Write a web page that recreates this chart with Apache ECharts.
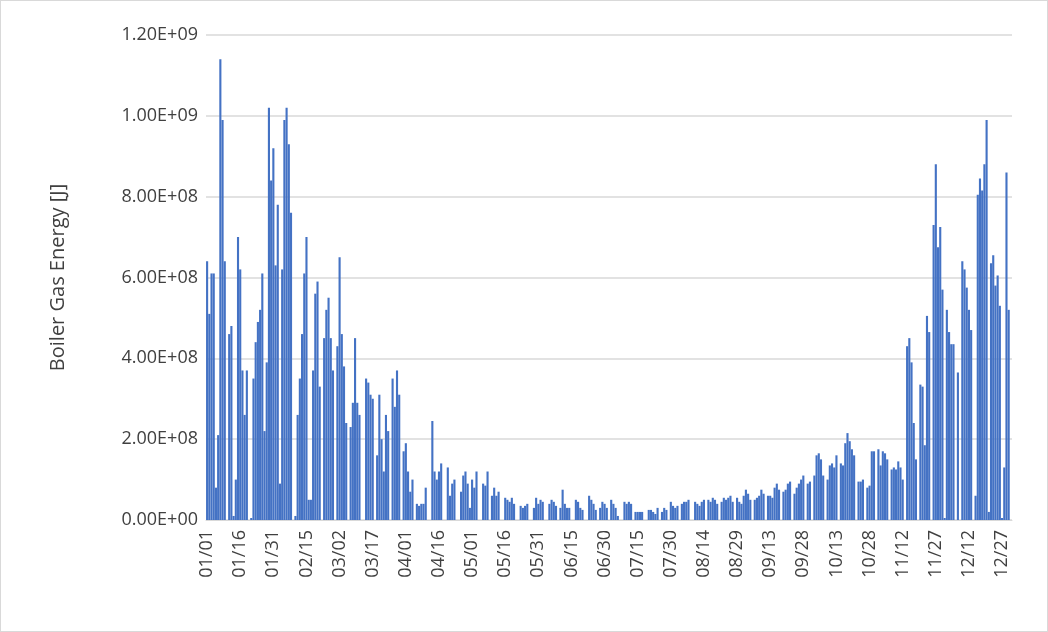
<!DOCTYPE html>
<html><head><meta charset="utf-8">
<script src="https://cdn.jsdelivr.net/npm/echarts@6/dist/echarts.min.js"></script>
<style>html,body{margin:0;padding:0;background:#fff}#c{width:1048px;height:632px;box-sizing:border-box;border:1px solid #d9d9d9}</style>
</head><body><div id="c"></div>
<script>
// values in units of 1e8 J, by month
const jan=[6.4,5.1,6.1,6.1,0.8,2.1,11.4,9.9,6.4,0,4.6,4.8,0.1,1.0,7.0,6.2,3.7,2.6,3.7,0,0.05,3.5,4.4,4.9,5.2,6.1,2.2,3.9,10.2,8.4,9.2];
const feb=[6.3,7.8,0.9,6.2,9.9,10.2,9.3,7.6,0,0.1,2.6,3.5,4.6,6.1,7.0,0.5,0.5,3.7,5.6,5.9,3.3,0,4.5,5.2,5.5,4.5,3.7,0];
const mar=[4.3,6.5,4.6,3.8,2.4,0,2.3,2.9,4.5,2.9,2.6,0,0,3.5,3.4,3.1,3.0,0,1.6,3.1,2.0,1.2,2.6,2.2,0,3.5,2.8,3.7,3.1,0,1.7];
const apr=[1.9,1.2,0.7,1.0,0,0.4,0.35,0.4,0.4,0.8,0,0,2.45,1.2,1.0,1.2,1.4,0,0,1.3,0.6,0.9,1.0,0,0,0.7,1.1,1.2,0.9,0.3];
const may=[1.0,0.8,1.2,0,0,0.9,0.85,1.2,0,0.6,0.8,0.6,0.7,0,0,0.55,0.5,0.45,0.55,0.4,0,0,0.35,0.3,0.35,0.4,0,0,0.3,0.55,0.4];
const jun=[0.5,0.45,0,0,0.4,0.5,0.45,0.35,0,0.3,0.75,0.4,0.3,0.3,0,0,0.5,0.45,0.3,0.25,0,0,0.6,0.5,0.4,0.25,0,0.3,0.45,0.4];
const jul=[0.3,0,0.5,0.4,0.3,0.1,0,0,0.45,0.4,0.45,0.4,0,0.2,0.2,0.2,0.2,0,0,0.25,0.25,0.2,0.15,0.3,0,0.2,0.3,0.25,0,0.45,0.35];
const aug=[0.3,0.35,0,0.4,0.45,0.45,0.5,0,0,0.45,0.4,0.35,0.45,0.5,0,0.5,0.45,0.55,0.5,0.4,0,0.45,0.55,0.5,0.55,0.6,0.45,0,0.55,0.45,0.4];
const sep=[0.6,0.75,0.65,0.5,0,0.5,0.55,0.6,0.75,0.65,0,0.6,0.6,0.55,0.8,0.9,0.75,0,0.7,0.75,0.9,0.95,0,0.65,0.8,0.9,1.0,1.1,0,0.9];
const oct=[0.95,0,1.1,1.6,1.65,1.5,1.1,0,1.0,1.35,1.4,1.3,1.6,0,1.4,1.35,1.9,2.15,1.95,1.75,1.6,0,0.95,0.95,1.0,0,0.8,0.85,1.7,1.7,0];
const nov=[1.75,1.35,1.7,1.65,1.5,0,1.25,1.3,1.25,1.45,1.3,1.0,0,4.3,4.5,3.9,2.4,1.5,0,3.35,3.3,1.85,5.05,4.65,0,7.3,8.8,6.75,7.25,5.7];
const dec=[0.05,5.2,4.65,4.35,4.35,0,3.65,0,6.4,6.2,5.75,5.2,4.7,0,0.6,8.05,8.45,8.15,8.8,9.9,0.2,6.35,6.55,5.8,6.05,5.3,0.05,1.3,8.6,5.2,0];
const months=[jan,feb,mar,apr,may,jun,jul,aug,sep,oct,nov,dec];
const categories=[], values=[];
months.forEach((m,i)=>m.forEach((v,d)=>{
  categories.push(String(i+1).padStart(2,'0')+'/'+String(d+1).padStart(2,'0'));
  values.push(v*1e8);
}));
function sci(v){ if(v===0) return '0.00E+00'; const e=Math.floor(Math.log10(v)); return (v/Math.pow(10,e)).toFixed(2)+'E+'+String(e).padStart(2,'0'); }
const chart=echarts.init(document.getElementById('c'));
chart.setOption({
  animation:false,
  grid:{left:205,right:35,top:34,bottom:111},
  xAxis:{type:'category',data:categories,
    axisLine:{lineStyle:{color:'#d9d9d9'}},axisTick:{show:false},
    axisLabel:{interval:14,rotate:90,color:'#404040',fontSize:18,fontFamily:'Open Sans',margin:10}},
  yAxis:{type:'value',min:0,max:1.2e9,interval:2e8,
    name:'Boiler Gas Energy [J]',nameLocation:'middle',nameGap:138,
    nameTextStyle:{color:'#404040',fontSize:20,fontFamily:'Open Sans'},
    axisLabel:{formatter:sci,color:'#404040',fontSize:18,fontFamily:'Open Sans'},
    splitLine:{lineStyle:{color:'#d9d9d9',width:1.5}}},
  series:[{type:'bar',data:values,barCategoryGap:'4%',itemStyle:{color:'#4472c4'}}]
});
</script></body></html>
